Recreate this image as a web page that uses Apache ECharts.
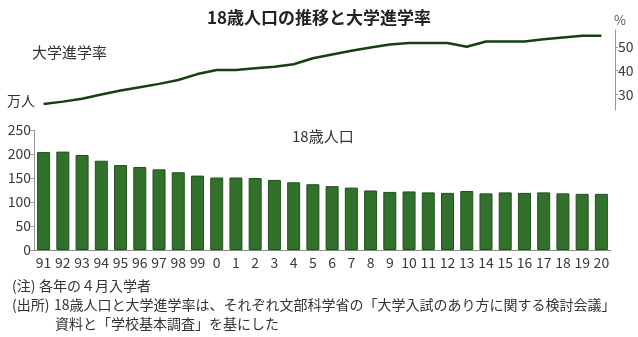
<!DOCTYPE html>
<html>
<head>
<meta charset="utf-8">
<script src="https://cdn.jsdelivr.net/npm/echarts@6/dist/echarts.min.js"></script>
<style>
html,body{margin:0;padding:0;background:#fff;}
#chart{width:638px;height:337px;}
</style>
</head>
<body>
<div id="chart"></div>
<script>
var years = ['91','92','93','94','95','96','97','98','99','0','1','2','3','4','5','6','7','8','9','10','11','12','13','14','15','16','17','18','19','20'];
var population = [204,205,198,186,177,173,168,162,155,151,151,150,146,141,137,133,130,124,121,122,120,119,123,118,120,119,120,118,117,117];
var enrollRate = [26.1,27.1,28.3,30.1,31.7,33.1,34.5,36.1,38.6,40.3,40.3,41.0,41.7,42.7,45.2,46.8,48.3,49.7,50.9,51.6,51.6,51.6,50.0,52.2,52.2,52.2,53.1,53.9,54.6,54.6];
var rateTicks = [30,40,50];

var CJK = '"Noto Sans CJK JP", "Noto Sans", sans-serif';
var NUM = '"Liberation Sans Narrow", "Noto Sans CJK JP", sans-serif';

var chart = echarts.init(document.getElementById('chart'), null, {renderer:'canvas'});
chart.setOption({
  animation:false,
  backgroundColor:'#fff',
  title:{
    text:'18歳人口の推移と大学進学率',
    left:'center', top:4,
    textStyle:{fontFamily:CJK, fontSize:17, fontWeight:'bold', color:'#222'}
  },
  grid:[
    {left:34, right:27, top:30, height:80},
    {left:34, right:27, top:130, height:120}
  ],
  xAxis:[
    {type:'category', gridIndex:0, data:years, show:false},
    {type:'category', gridIndex:1, data:years,
     axisLine:{lineStyle:{color:'#888', width:1}},
     axisTick:{show:false},
     axisLabel:{interval:0, margin:6, fontFamily:NUM, fontSize:14, color:'#3a3a3a'}}
  ],
  yAxis:[
    {type:'value', gridIndex:0, position:'right', offset:4, min:23.6, max:57,
     axisLine:{show:true, lineStyle:{color:'#999'}},
     axisTick:{show:true, length:3, customValues:rateTicks, lineStyle:{color:'#999'}},
     axisLabel:{customValues:rateTicks, margin:3, fontFamily:NUM, fontSize:14, color:'#3a3a3a'},
     splitLine:{show:false}},
    {type:'value', gridIndex:1, min:0, max:250, interval:50,
     axisLine:{show:true, lineStyle:{color:'#999'}},
     axisTick:{show:true, length:3, lineStyle:{color:'#999'}},
     axisLabel:{margin:3, fontFamily:NUM, fontSize:14, color:'#3a3a3a'},
     splitLine:{show:false}}
  ],
  series:[
    {type:'line', xAxisIndex:0, yAxisIndex:0, data:enrollRate, symbol:'none',
     lineStyle:{color:'#163f12', width:2.5}},
    {type:'bar', xAxisIndex:1, yAxisIndex:1, data:population, barWidth:13,
     itemStyle:{color:'#31712c', borderColor:'#21501d', borderWidth:1}}
  ],
  graphic:[
    {type:'text', x:32, y:52, style:{text:'大学進学率', font:'15px '+CJK, fill:'#333', verticalAlign:'middle'}},
    {type:'text', x:7, y:101, style:{text:'万人', font:'14px '+CJK, fill:'#333', verticalAlign:'middle'}},
    {type:'text', x:292, y:136, style:{text:'18歳人口', font:'15px '+CJK, fill:'#333', verticalAlign:'middle'}},
    {type:'text', x:614, y:20, style:{text:'%', font:'13px '+CJK, fill:'#555', verticalAlign:'middle'}},
    {type:'text', x:12, y:286, style:{text:'(注)', font:'14px '+CJK, fill:'#333', verticalAlign:'middle'}},
    {type:'text', x:39, y:286, style:{text:'各年の４月入学者', font:'14px '+CJK, fill:'#333', verticalAlign:'middle'}},
    {type:'text', x:12, y:305, style:{text:'(出所)', font:'14px '+CJK, fill:'#333', verticalAlign:'middle'}},
    {type:'text', x:54, y:305, style:{text:'18歳人口と大学進学率は、それぞれ文部科学省の「大学入試のあり方に関する検討会議」', font:'14px '+CJK, fill:'#333', verticalAlign:'middle'}},
    {type:'text', x:55, y:324, style:{text:'資料と「学校基本調査」を基にした', font:'14px '+CJK, fill:'#333', verticalAlign:'middle'}}
  ]
});
</script>
</body>
</html>
